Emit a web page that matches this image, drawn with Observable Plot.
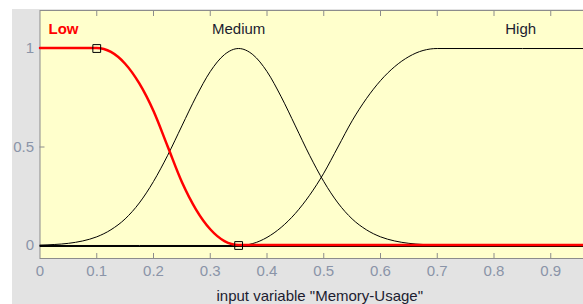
<!DOCTYPE html>
<html>
<head>
<meta charset="utf-8">
<script src="https://cdn.jsdelivr.net/npm/d3@7"></script>
<script src="https://cdn.jsdelivr.net/npm/@observablehq/plot@0.6"></script>
<style>
  html, body { margin: 0; padding: 0; width: 583px; height: 304px; overflow: hidden; background: #ffffff; }
  #bg { position: absolute; left: 12px; top: 9px; right: 0; bottom: 0; background: #e3e3e3; }
  #chart { position: absolute; left: 0; top: 0; width: 620px; }
  #chart svg { max-width: none !important; }
</style>
</head>
<body>
<div id="bg"></div>
<div id="chart"></div>
<script>
// Membership function samples
const lowX = [0, 0.1, 0.125, 0.15, 0.175, 0.2, 0.225, 0.25, 0.275, 0.3, 0.325, 0.35, 1];
const lowY = [1, 1, 0.98, 0.92, 0.82, 0.68, 0.5, 0.32, 0.18, 0.08, 0.02, 0, 0];

const medX = [0, 0.025, 0.05, 0.075, 0.1, 0.125, 0.15, 0.175, 0.2, 0.225, 0.25, 0.275, 0.3, 0.325, 0.35,
              0.375, 0.4, 0.425, 0.45, 0.475, 0.5, 0.525, 0.55, 0.575, 0.6, 0.625, 0.65, 0.675, 0.7, 0.75, 0.8, 1];
const medY = [0.002, 0.005, 0.011, 0.023, 0.044, 0.08, 0.135, 0.216, 0.325, 0.458, 0.607, 0.755, 0.883, 0.969, 1,
              0.969, 0.883, 0.755, 0.607, 0.458, 0.325, 0.216, 0.135, 0.08, 0.044, 0.023, 0.011, 0.005, 0.002, 0.0003, 0, 0];

const highX = [0, 0.35, 0.375, 0.4, 0.425, 0.45, 0.475, 0.5, 0.525, 0.55, 0.575, 0.6, 0.625, 0.65, 0.675, 0.7, 1];
const highY = [0, 0, 0.01, 0.041, 0.092, 0.163, 0.255, 0.367, 0.5, 0.633, 0.745, 0.837, 0.908, 0.959, 0.99, 1, 1];

const markerX = [0.1, 0.35];
const markerY = [1, 0];

const mfNames = ["Low", "Medium", "High"];
const mfLabelX = [0.015, 0.35, 0.847];
const mfLabelY = [1.096, 1.096, 1.096];

const xTicks = [0.1, 0.2, 0.3, 0.4, 0.5, 0.6, 0.7, 0.8, 0.9];
const xTickLabels = [0, 0.1, 0.2, 0.3, 0.4, 0.5, 0.6, 0.7, 0.8, 0.9];
const yTicks = [0, 0.5, 1];
const xTitle = 'input variable "Memory-Usage"';

const lowData = lowX.map((x, i) => ({x, y: lowY[i]}));
const medData = medX.map((x, i) => ({x, y: medY[i]}));
const highData = highX.map((x, i) => ({x, y: highY[i]}));
const markers = markerX.map((x, i) => ({x, y: markerY[i]}));
const labels = mfNames.map((name, i) => ({name, x: mfLabelX[i], y: mfLabelY[i]}));
const baseline = [{x: 0, y: 0}, {x: 1, y: 0}];

const tickColor = "#8a94a8";
const font = "'Liberation Sans', Arial, sans-serif";

const plot = Plot.plot({
  width: 620,
  height: 304,
  marginLeft: 39.5,
  marginRight: 13,
  marginTop: 10,
  marginBottom: 46,
  style: {background: "transparent", fontFamily: font, fontSize: "15px", overflow: "visible", maxWidth: "none"},
  x: {domain: [0, 1], axis: null},
  y: {domain: [-0.066, 1.193], axis: null},
  marks: [
    Plot.frame({fill: "#ffffcc", stroke: "#8c8c8c"}),
    // tick marks (inward)
    Plot.axisX(xTicks, {anchor: "bottom", label: null, tickSize: 5, dy: -5, tickFormat: () => "", stroke: "#8c8c8c"}),
    Plot.axisX(xTicks, {anchor: "top", label: null, tickSize: 5, dy: 5, tickFormat: () => "", stroke: "#8c8c8c"}),
    Plot.axisY(yTicks, {anchor: "left", label: null, tickSize: 5, dx: 5, tickFormat: () => "", stroke: "#8c8c8c"}),
    // tick labels
    Plot.axisX(xTickLabels, {anchor: "bottom", label: null, tickSize: 0, tickPadding: 7, fill: tickColor, fontSize: 15, tickFormat: d => String(d)}),
    Plot.axisY(yTicks, {anchor: "left", label: null, tickSize: 0, tickPadding: 6, fill: tickColor, fontSize: 15, tickFormat: d => String(d)}),
    // curves
    Plot.line(baseline, {x: "x", y: "y", stroke: "#000", strokeWidth: 1, dy: 1}),
    Plot.line(medData, {x: "x", y: "y", stroke: "#000", strokeWidth: 1, curve: "monotone-x"}),
    Plot.line(highData, {x: "x", y: "y", stroke: "#000", strokeWidth: 1, curve: "monotone-x"}),
    Plot.line(lowData, {x: "x", y: "y", stroke: "#ff0000", strokeWidth: 2.5, curve: "monotone-x", dy: -0.5}),
    Plot.dot(markers, {x: "x", y: "y", symbol: "square", r: 4.4, stroke: "#000", strokeWidth: 1, fill: "none"}),
    // MF labels
    Plot.text(labels.filter(d => d.name === "Low"), {x: "x", y: "y", text: "name", textAnchor: "start",
      fill: "#ff0000", fontWeight: "bold", fontSize: 15}),
    Plot.text(labels.filter(d => d.name !== "Low"), {x: "x", y: "y", text: "name", textAnchor: "middle",
      fill: "#1c1c30", fontSize: 15}),
    // axis title
    Plot.text([xTitle], {frameAnchor: "bottom", dy: 38, dx: -4, text: d => d, fill: "#1c1c30", fontSize: 15, lineAnchor: "middle"})
  ]
});
document.getElementById("chart").appendChild(plot);
</script>
</body>
</html>
